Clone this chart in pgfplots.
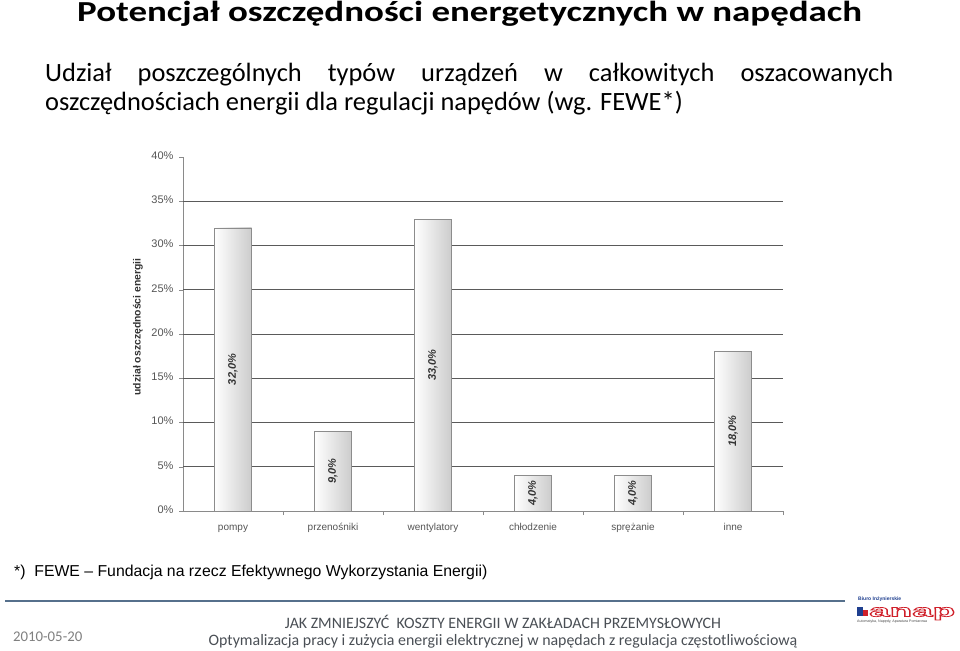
\documentclass[border=0pt]{standalone}
\usepackage{pgfplots}
\pgfplotsset{compat=1.18}
\usepackage{fontspec}
\setmainfont{Carlito}
\newfontfamily\arial[Ligatures=TeX]{Liberation Sans}
\definecolor{gridc}{HTML}{5A5A5A}
\definecolor{axc}{HTML}{8A8A8A}
\definecolor{tickc}{HTML}{555555}
\definecolor{footline}{HTML}{56708C}
\definecolor{foottext}{HTML}{4A4F55}
\definecolor{logored}{HTML}{D0202A}
\definecolor{logoblue}{HTML}{1F3F8F}
\pgfplotsset{barsty/.style={ybar, bar width=37pt, draw=black!45, line width=0.7pt, left color=white, right color=black!20}}
\begin{document}
\begin{tikzpicture}[x=1pt,y=1pt]
\path[fill=white,use as bounding box] (0,0) rectangle (960,650);
% title
\node[anchor=base west, inner sep=0] at (77,628) {\resizebox{785pt}{\height}{\fontsize{29}{29}\selectfont\bfseries Potencjał oszczędności energetycznych w napędach}};
% subtitle
\node[anchor=base west, inner sep=0] at (45,568) {\fontsize{26.4}{27}\selectfont\makebox[848pt][s]{Udział poszczególnych typów urządzeń w całkowitych oszacowanych}};
\node[anchor=base west, inner sep=0] at (45,539) {\fontsize{26.4}{27}\selectfont oszczędnościach energii dla regulacji napędów (wg. FEWE*)};
% chart
\begin{axis}[
  at={(233,157)}, anchor=origin,
  scale only axis, width=600pt, height=354pt,
  xmin=-0.5, xmax=5.5, ymin=0, ymax=40,
  axis lines*=left,
  axis line style={axc, line width=0.8pt},
  tick align=outside,
  xtick={0,1,2,3,4,5},
  xticklabels={pompy,przenośniki,wentylatory,chłodzenie,sprężanie,inne},
  typeset ticklabels with strut,
  major x tick style={draw=none},
  minor xtick={0.5,1.5,2.5,3.5,4.5,5.5},
  minor tick length=4pt,
  minor x tick style={axc, line width=0.6pt},
  ytick={0,5,...,40},
  yticklabels={0\%,5\%,10\%,15\%,20\%,25\%,30\%,35\%,40\%},
  major tick length=4pt,
  y tick style={axc, line width=0.6pt},
  extra y ticks={5,10,15,20,25,30,35},
  extra y tick labels={},
  extra y tick style={grid=major, major tick length=0pt, major grid style={gridc, line width=0.9pt}},
  x tick label style={font=\arial\fontsize{10}{12}\selectfont, text=tickc, yshift=-4pt},
  y tick label style={font=\arial\fontsize{11}{12}\selectfont, text=tickc, xshift=-2pt},
  ylabel={udział oszczędności energii},
  ylabel style={font=\arial\bfseries\fontsize{10.4}{12}\selectfont, text=black!80, at={(axis description cs:-0.075,0.52)}, anchor=center},
  clip=false,
]
\addplot[barsty] coordinates {(0,32)};
\addplot[barsty] coordinates {(1,9)};
\addplot[barsty] coordinates {(2,33)};
\addplot[barsty] coordinates {(3,4)};
\addplot[barsty] coordinates {(4,4)};
\addplot[barsty] coordinates {(5,18)};
\addplot[draw=none, mark=none, nodes near coords, point meta=explicit symbolic,
  every node near coord/.append style={rotate=90, anchor=center, inner sep=0pt, font=\arial\bfseries\itshape\fontsize{11}{12}\selectfont, text=black!80}]
  coordinates {(0,16) [32,0\%] (1,4.5) [9,0\%] (2,16.5) [33,0\%] (3,2) [4,0\%] (4,2) [4,0\%] (5,9) [18,0\%]};
\end{axis}
% footnote
\node[anchor=base west, inner sep=0] at (14,74) {\arial\fontsize{15.8}{16}\selectfont *)\ \ FEWE – Fundacja na rzecz Efektywnego Wykorzystania Energii)};
% footer
\draw[footline, line width=1.6pt] (5,49) -- (845,49);
\node[anchor=base west, inner sep=0, text=black!50] at (13,8.3) {\fontsize{14.8}{15}\selectfont 2010-05-20};
\node[anchor=base, inner sep=0, text=foottext] at (503,22) {\fontsize{15.9}{16}\selectfont JAK ZMNIEJSZYĆ\ \ KOSZTY ENERGII W ZAKŁADACH PRZEMYSŁOWYCH};
\node[anchor=base, inner sep=0, text=foottext] at (503,5) {\fontsize{15.9}{16}\selectfont Optymalizacja pracy i zużycia energii elektrycznej w napędach z regulacja częstotliwościową};
% logo
\node[anchor=base west, inner sep=0, text=logoblue] at (858,49) {\arial\bfseries\fontsize{5}{5}\selectfont Biuro Inżynierskie};
\fill[logoblue] (857,34) rectangle (863,43);
\fill[logored] (863,34) rectangle (868,40);
\node[anchor=base west, inner sep=0, text=logored] at (869,33.5) {\resizebox{86pt}{\height}{\arial\bfseries\fontsize{17}{17}\selectfont\special{pdf:literal direct 1 Tr 0.7 w}anap\special{pdf:literal direct 0 Tr}}};
\node[anchor=base west, inner sep=0, text=black!70] at (857,28) {\arial\fontsize{3.6}{4}\selectfont Automatyka, Napędy, Aparatura Pomiarowa};
\end{tikzpicture}
\end{document}
